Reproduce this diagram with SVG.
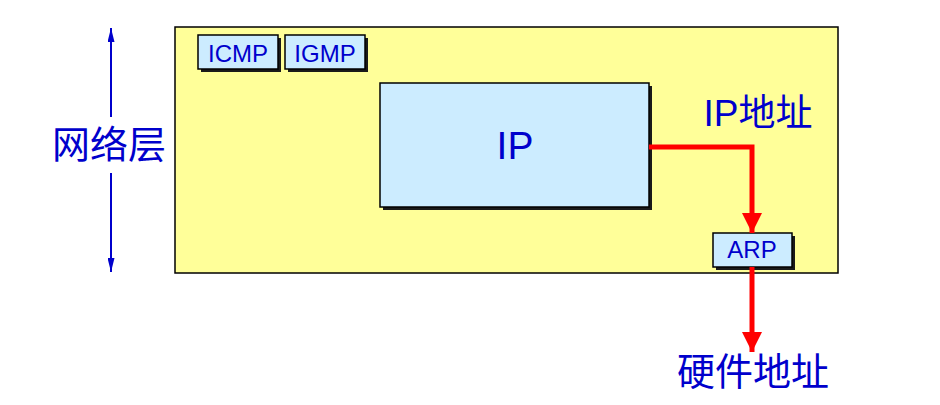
<svg xmlns="http://www.w3.org/2000/svg" width="940" height="405" viewBox="0 0 940 405">
<defs>
<style>
.box{fill:#CCECFF;stroke:#000;stroke-width:1.5}
.shadow{fill:#1a1a1a}
.lbl{font-family:"Liberation Sans","Noto Sans CJK SC",sans-serif;fill:#0000CC;text-anchor:middle}
.red{fill:none;stroke:#FF0000;stroke-width:5}
.blue{fill:none;stroke:#0000CC;stroke-width:2}
</style>
<marker id="redHead" markerWidth="20" markerHeight="20" viewBox="0 0 20 20" refX="20" refY="10" orient="auto" markerUnits="userSpaceOnUse">
<path d="M0,0 L20,10 L0,20 Z" fill="#FF0000"/>
</marker>
<marker id="blueHead" markerWidth="14" markerHeight="7" viewBox="0 0 14 7" refX="14" refY="3.5" orient="auto" markerUnits="userSpaceOnUse">
<path d="M0,0 L14,3.5 L0,7 Z" fill="#0000CC"/>
</marker>
</defs>
<rect width="940" height="405" fill="#fff"/>
<g id="network-layer-box">
<rect x="175" y="27" width="663" height="246" fill="#FFFF99" stroke="#000" stroke-width="1.5"/>
</g>
<g id="icmp">
<rect class="shadow" x="201" y="38" width="80" height="34"/>
<rect class="box" x="198" y="35" width="80" height="34"/>
<text class="lbl" x="238" y="62" font-size="24">ICMP</text>
</g>
<g id="igmp">
<rect class="shadow" x="288" y="38" width="80" height="34"/>
<rect class="box" x="285" y="35" width="80" height="34"/>
<text class="lbl" x="325" y="62" font-size="24">IGMP</text>
</g>
<g id="ip">
<rect class="shadow" x="383" y="86" width="269" height="124"/>
<rect class="box" x="380" y="83" width="269" height="124"/>
<text class="lbl" x="515" y="159" font-size="39">IP</text>
</g>
<g id="arp">
<rect class="shadow" x="716" y="236" width="79" height="34"/>
<rect class="box" x="713" y="233" width="79" height="34"/>
<text class="lbl" x="752" y="258" font-size="24">ARP</text>
</g>
<g id="connectors">
<path class="red" d="M649,147 H752 V233" marker-end="url(#redHead)"/>
<path class="red" d="M752,267 V352" marker-end="url(#redHead)"/>
<path class="blue" d="M111,117 V28" marker-end="url(#blueHead)"/>
<path class="blue" d="M111,173 V272" marker-end="url(#blueHead)"/>
</g>
<g id="labels">
<text class="lbl" x="758" y="126" font-size="37">IP地址</text>
<text class="lbl" x="753" y="385" font-size="38">硬件地址</text>
<text class="lbl" x="109" y="158" font-size="38">网络层</text>
</g>
</svg>
